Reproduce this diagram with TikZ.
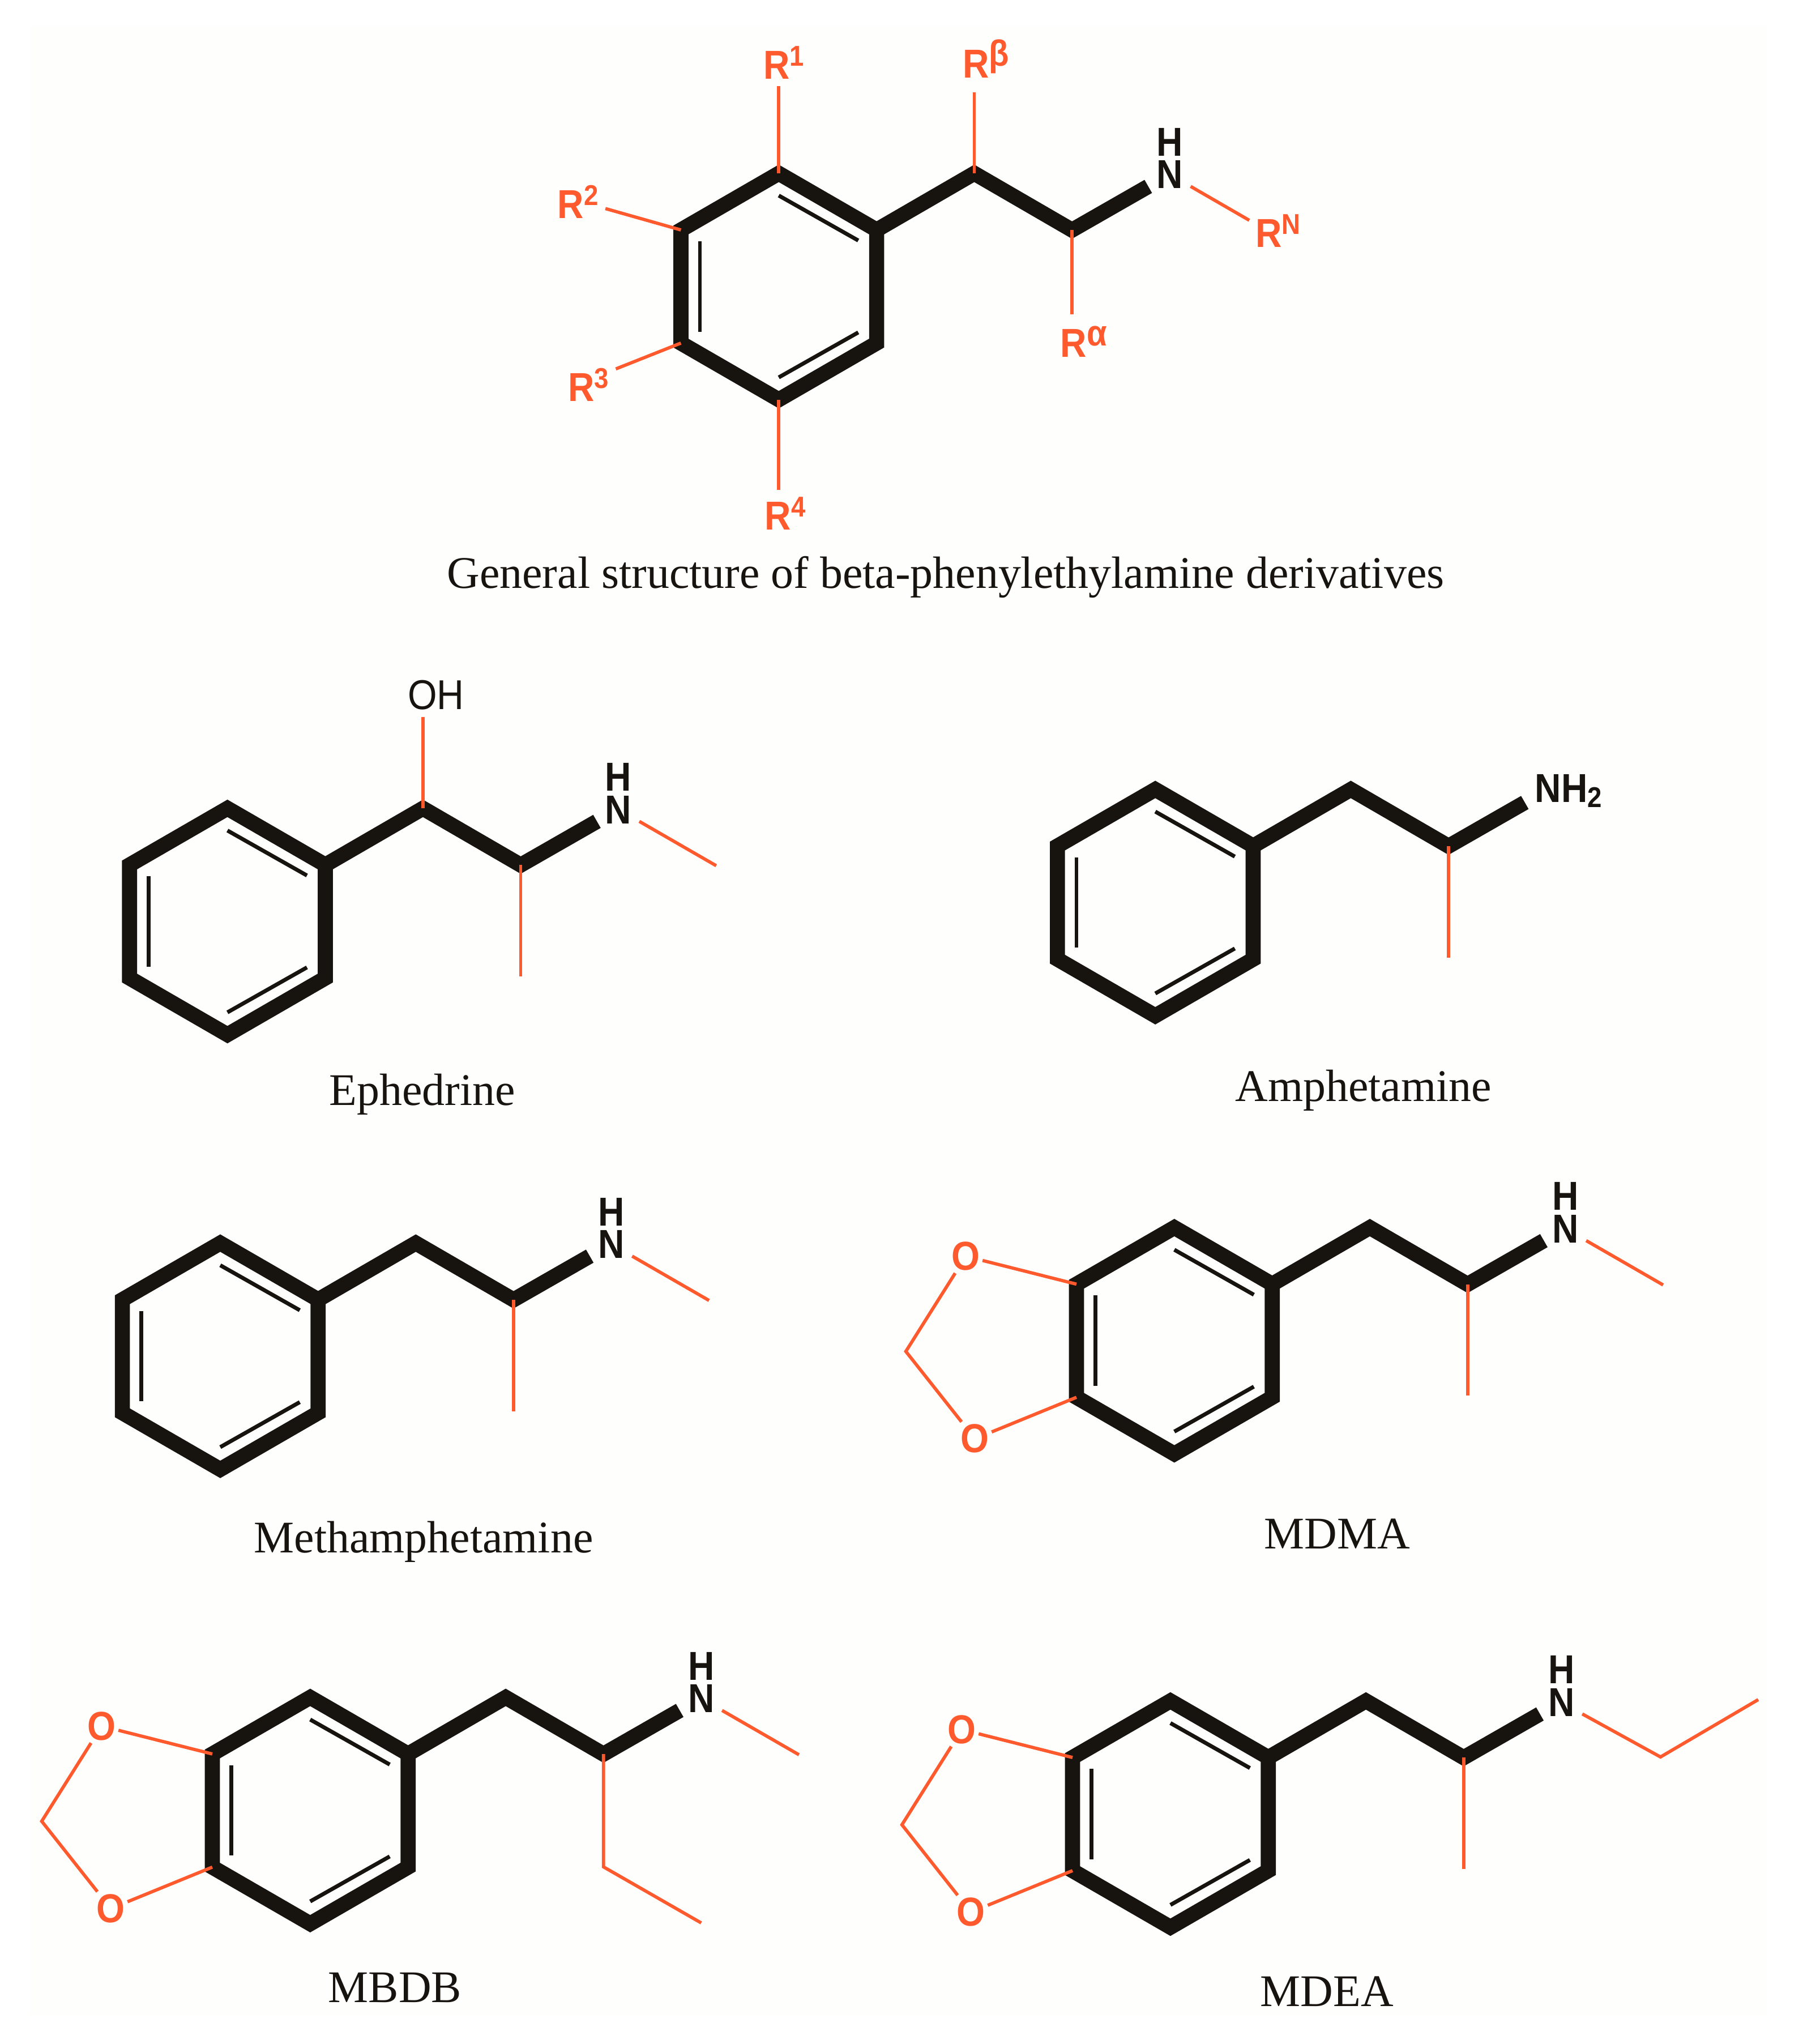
\documentclass[tikz,border=0pt]{standalone}
\usepackage{fontspec}
\setmainfont{Liberation Serif}
\newfontfamily\atomfont[FakeStretch=0.9]{Liberation Sans}
\definecolor{ink}{HTML}{17130F}
\definecolor{hot}{HTML}{FF5A2E}
\definecolor{paper}{HTML}{FEFEFD}
\tikzset{
  bond/.style={draw=ink,line width=11.6pt,line join=miter,miter limit=10},
  inner bond/.style={draw=ink,line width=3pt},
  sub/.style={draw=hot,line width=2.5pt},
  atom/.style={font=\atomfont\bfseries\fontsize{31}{25}\selectfont,text=ink,inner sep=0pt},
  ratom/.style={atom,text=hot},
  caption/.style={font=\fontsize{34.7}{34.7}\selectfont,text=ink,anchor=base,inner sep=0pt},
}
\newcommand{\supr}[1]{R\raisebox{10pt}{\fontsize{22}{22}\selectfont #1}}
\newcommand{\suprg}[1]{R\raisebox{9pt}{\fontsize{28}{28}\selectfont #1}}
% ring + side chain, origin at the top vertex of the ring
\newcommand{\skel}[1]{%
  \coordinate (#1-a) at (0,0);
  \coordinate (#1-b) at (75.1,43.4);
  \coordinate (#1-c) at (75.1,130.2);
  \coordinate (#1-d) at (0,173.6);
  \coordinate (#1-e) at (-75.1,130.2);
  \coordinate (#1-f) at (-75.1,43.4);
  \coordinate (#1-g) at (150,0);
  \coordinate (#1-h) at (225,43.5);
  \coordinate (#1-i) at (283.5,10);
  \coordinate (#1-j1) at (0,17);
  \coordinate (#1-j2) at (61,51.5);
  \coordinate (#1-k1) at (-60.5,52);
  \coordinate (#1-k2) at (-60.5,121.4);
  \coordinate (#1-l1) at (0,156.5);
  \coordinate (#1-l2) at (61,122);
  \draw[bond] (#1-a) -- (#1-b) -- (#1-c) -- (#1-d) -- (#1-e) -- (#1-f) -- cycle;
  \draw[bond] (#1-b) -- (#1-g) -- (#1-h) -- (#1-i);
  \draw[inner bond] (#1-j1) -- (#1-j2);
  \draw[inner bond] (#1-k1) -- (#1-k2);
  \draw[inner bond] (#1-l1) -- (#1-l2);
}
\newcommand{\amine}[1]{%
  \node[atom,align=center] (#1-NH) at (300,-11.5) {H\\N};
  \coordinate (#1-n) at (316,10);
}
\newcommand{\methylN}[1]{%
  \coordinate (#1-me) at (375,44);
  \draw[sub] (#1-n) -- (#1-me);
}
\newcommand{\methylC}[1]{%
  \coordinate (#1-dn) at (225,129);
  \draw[sub] (#1-h) -- (#1-dn);
}
\newcommand{\dioxole}[1]{%
  \node[ratom,outer sep=2pt] (#1-O1) at (-160,22) {O};
  \node[ratom,outer sep=2pt] (#1-O2) at (-153,162) {O};
  \coordinate (#1-ch) at (-206,95);
  \draw[sub] (#1-O1) -- (#1-f);
  \draw[sub] (#1-O2) -- (#1-e);
  \draw[sub] (#1-O1) -- (#1-ch) -- (#1-O2);
}
\begin{document}
\begin{tikzpicture}[x=1pt,y=-1pt]
\fill[white] (0,0) rectangle (1383,1568);
\fill[paper] (23,20) rectangle (1356,1546);
\useasboundingbox (0,0) rectangle (1383,1568);

% general structure
\begin{scope}[shift={(597.5,133)}]
  \skel{G}
  \amine{G}
  \node[ratom] (G-R1) at (4,-85) {\supr{1}};
  \node[ratom] (G-R2) at (-154,22) {\supr{2}};
  \node[ratom] (G-R3) at (-146,162) {\supr{3}};
  \node[ratom] (G-R4) at (5,261) {\supr{4}};
  \node[ratom] (G-Rb) at (159,-88) {\suprg{β}};
  \node[ratom] (G-Ra) at (234,129) {\suprg{α}};
  \node[ratom] (G-Rn) at (383,44) {\supr{N}};
  \coordinate (G-s1) at (0,-67);
  \coordinate (G-s2) at (-133,27);
  \coordinate (G-s3) at (-125,150);
  \coordinate (G-s4) at (0,243);
  \coordinate (G-sb) at (150,-62);
  \coordinate (G-sa) at (225,108);
  \coordinate (G-sn2) at (361,36);
  \draw[sub] (G-s1) -- (G-a);
  \draw[sub] (G-s2) -- (G-f);
  \draw[sub] (G-s3) -- (G-e);
  \draw[sub] (G-s4) -- (G-d);
  \draw[sub] (G-sb) -- (G-g);
  \draw[sub] (G-sa) -- (G-h);
  \draw[sub] (G-n) -- (G-sn2);
\end{scope}
\node[caption] (capG) at (725.5,451) {General structure of beta-phenylethylamine derivatives};

% ephedrine
\begin{scope}[shift={(174.5,620.1)}]
  \skel{E}
  \amine{E}
  \methylN{E}
  \methylC{E}
  \node[atom,font=\atomfont\fontsize{32}{32}\selectfont] (E-OH) at (160,-87) {OH};
  \coordinate (E-o) at (150,-70);
  \draw[sub] (E-g) -- (E-o);
\end{scope}
\node[caption] (capE) at (324,848) {Ephedrine};

% amphetamine
\begin{scope}[shift={(886.4,605.6)}]
  \skel{A}
  \methylC{A}
  \node[atom] (A-N) at (317,1) {NH\raisebox{-4pt}{\fontsize{22}{22}\selectfont 2}};
\end{scope}
\node[caption] (capA) at (1046,845) {Amphetamine};

% methamphetamine
\begin{scope}[shift={(169,953.6)}]
  \skel{M}
  \amine{M}
  \methylN{M}
  \methylC{M}
\end{scope}
\node[caption] (capM) at (325,1191) {Methamphetamine};

% MDMA
\begin{scope}[shift={(901,941.7)}]
  \skel{D}
  \amine{D}
  \methylN{D}
  \methylC{D}
  \dioxole{D}
\end{scope}
\node[caption] (capD) at (1026,1188) {MDMA};

% MBDB
\begin{scope}[shift={(238,1302.1)}]
  \skel{B}
  \amine{B}
  \methylN{B}
  \dioxole{B}
  \coordinate (B-c1) at (225,130);
  \coordinate (B-c2) at (300,173);
  \draw[sub] (B-h) -- (B-c1) -- (B-c2);
\end{scope}
\node[caption] (capB) at (303,1536) {MBDB};

% MDEA
\begin{scope}[shift={(898,1304.8)}]
  \skel{F}
  \amine{F}
  \methylC{F}
  \dioxole{F}
  \coordinate (F-c1) at (376,43);
  \coordinate (F-c2) at (451,-1);
  \draw[sub] (F-n) -- (F-c1) -- (F-c2);
\end{scope}
\node[caption] (capF) at (1018,1539) {MDEA};
\end{tikzpicture}
\end{document}
